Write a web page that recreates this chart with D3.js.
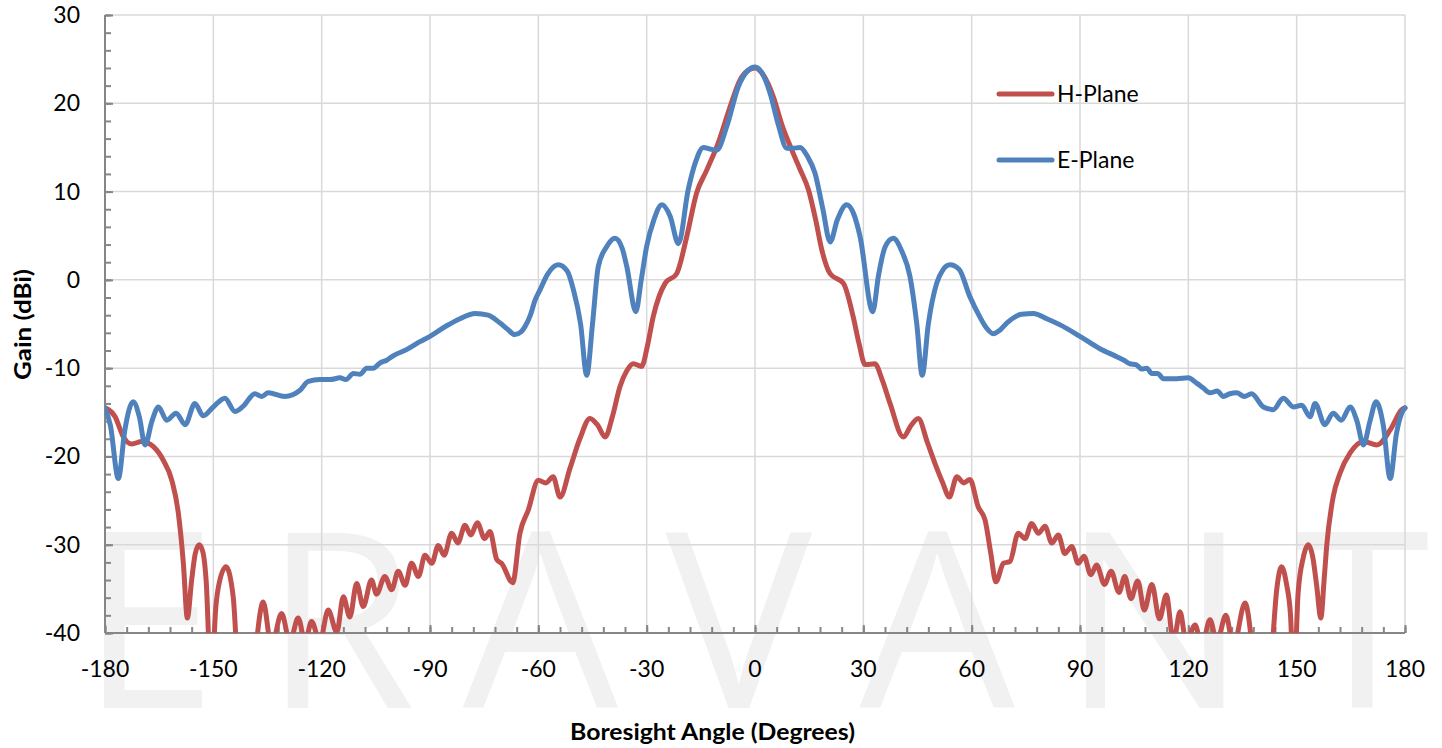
<!DOCTYPE html>
<html><head><meta charset="utf-8">
<script src="https://cdn.jsdelivr.net/npm/d3@7"></script>
<style>body{margin:0;background:#fff;} svg{display:block;}</style>
</head><body>
<svg id="chart" width="1442" height="748"></svg>
<script>
// ---- data ----
const xTicks = [-180,-150,-120,-90,-60,-30,0,30,60,90,120,150,180];
const yTicks = [-40,-30,-20,-10,0,10,20,30];
const seriesNames = ["H-Plane","E-Plane"];
const seriesColors = ["#c0504d","#4f81bd"];

// H-Plane: [angle (deg), gain (dBi)]
const hPlane = [
[-180,-14.5],[-177.2,-15.5],[-174.9,-17.8],[-172.6,-18.6],[-169.8,-18.3],[-166.6,-18.9],[-163.9,-20.4],
[-161.5,-22.7],[-159.7,-26.4],[-158.3,-32.1],[-157.2,-38.3],[-156.0,-34.0],[-155,-31],[-153.9,-30.0],
[-152.8,-31],[-152.0,-34.0],[-150.6,-46],[-149.3,-37],[-148.6,-34.8],[-146.5,-32.5],[-144.5,-35.9],
[-143,-46],[-140.5,-52],[-138.3,-42],[-136.2,-36.5],[-133.9,-41.5],[-131.1,-37.8],[-128.8,-41],
[-126.5,-38.3],[-124.6,-41],[-122.8,-38.7],[-120.5,-41],[-118.2,-37.4],[-115.8,-39.9],[-114.0,-35.9],
[-112.2,-38.2],[-110.3,-34.4],[-108.5,-37.0],[-106.2,-34.0],[-104.8,-35.6],[-102.5,-33.6],[-100.6,-35.1],
[-98.8,-33.0],[-96.9,-34.6],[-95.1,-32.1],[-93.2,-33.6],[-91.4,-31.2],[-89.5,-32.1],[-87.7,-30.1],
[-86.1,-31.2],[-84.0,-28.7],[-82.3,-29.8],[-80.3,-27.8],[-78.7,-28.9],[-76.9,-27.5],[-74.9,-29.3],
[-73.4,-28.5],[-71.5,-31.7],[-70.2,-32.1],[-67.1,-34.3],[-65.1,-28.7],[-62.8,-26.1],[-60.0,-22.7],
[-57.9,-23.0],[-55.9,-22.3],[-54.0,-24.6],[-51.2,-21.3],[-48.5,-18],[-45.7,-15.7],[-43.5,-16.5],
[-41.5,-17.8],[-39.5,-15.5],[-37.4,-12.1],[-35.5,-10.3],[-33.7,-9.5],[-31.4,-9.8],[-29.8,-7.5],
[-28.2,-4.2],[-24.9,-0.4],[-21.7,0.7],[-18.9,4.9],[-16.2,9.8],[-13.4,12.4],[-10.2,15.5],[-6.9,19.6],
[-4.2,22.6],[-2,23.7],[0,24.0],[2.3,23.2],[5.1,20.7],[7.5,17.5],[10.2,14.7],[12.5,12.5],[14.8,10.2],
[16.8,6.8],[18.5,3.4],[20.8,0.7],[24.5,-0.4],[27.2,-4.2],[28.8,-7.2],[30.5,-9.6],[33.2,-9.5],
[35.2,-11.3],[37.4,-14.0],[41.1,-17.8],[43.2,-16.5],[45.2,-15.7],[47.8,-18.5],[50.3,-21.3],[52,-23],
[53.8,-24.6],[55.9,-22.3],[57.8,-23.0],[59.5,-22.6],[61.8,-25.7],[63.7,-27.2],[65.3,-31],[66.7,-34.2],
[68.8,-32.1],[70.6,-31.9],[72.9,-28.7],[74.8,-29.3],[76.6,-27.6],[78.5,-28.7],[80.3,-27.9],[82.2,-29.8],
[84.0,-28.9],[85.8,-31.0],[87.7,-30.2],[89.5,-32.1],[91.1,-31.3],[93.0,-33.4],[94.6,-32.3],[96.8,-34.5],
[98.6,-33.0],[100.8,-35.4],[102.4,-33.6],[104.1,-36.1],[106.0,-34.1],[107.8,-37.4],[109.9,-34.5],
[112.0,-38.4],[113.9,-35.7],[115.9,-41],[117.7,-37.6],[119.4,-41],[121.9,-39.1],[123.7,-41.5],
[126.0,-38.5],[127.9,-41],[130.4,-38.0],[132.5,-41.5],[135.7,-36.6],[137.8,-42],[140,-52],[142.8,-44],
[144.5,-35],[145.8,-32.5],[147.2,-34.5],[148.3,-38],[149.2,-46],[150.4,-35.5],[151.8,-31.5],[153.2,-30.0],
[154.5,-31.5],[155.5,-34.5],[156.7,-38.3],[157.6,-34],[158.3,-30.2],[160.1,-24.6],[162.0,-21.9],
[164.8,-19.6],[168.5,-18.3],[172.2,-18.7],[175.9,-17.0],[179.1,-14.7],[180,-14.5]
];

// E-Plane: [angle (deg), gain (dBi)]
const ePlane = [
[-180,-14.5],[-178.5,-16.5],[-176.3,-22.5],[-174.5,-17],[-172.2,-13.8],[-170.5,-15.5],[-168.9,-18.7],
[-167,-16],[-165.2,-14.4],[-162.9,-15.9],[-160.3,-15.1],[-157.8,-16.4],[-155.1,-14.0],[-152.8,-15.4],
[-150.0,-14.4],[-146.8,-13.4],[-144.0,-14.9],[-141.7,-14.3],[-138.5,-12.9],[-136.6,-13.2],[-134.8,-12.8],
[-130.2,-13.2],[-126,-12.5],[-123.7,-11.5],[-120.5,-11.3],[-117.7,-11.3],[-114.9,-11.1],[-113.3,-11.3],
[-111.2,-10.6],[-109.4,-10.7],[-107.5,-10.0],[-105.7,-10.0],[-103.8,-9.4],[-102.0,-9.1],[-100.2,-8.6],
[-96.5,-7.9],[-92.8,-7.0],[-90,-6.4],[-85.4,-5.2],[-81.7,-4.4],[-77.5,-3.8],[-73.9,-4.0],[-70.6,-4.9],
[-68.5,-5.6],[-66.5,-6.2],[-64.8,-5.9],[-63.7,-5.3],[-62.2,-4.0],[-60.9,-2.3],[-59.5,-1.1],[-57.5,0.6],
[-54.5,1.7],[-52,1.0],[-50.3,-1.1],[-48.3,-5],[-46.6,-10.8],[-45,-5],[-43.4,1.5],[-41,3.8],[-38.8,4.7],
[-36.8,3.6],[-35.5,1.5],[-33,-3.6],[-31.5,0],[-30,3.8],[-28,6.8],[-25.8,8.5],[-23.5,7.2],[-21.2,4.1],
[-18.5,10.2],[-16.5,13.3],[-14.3,15.0],[-12.3,14.8],[-10.6,14.7],[-7.8,17.4],[-4.6,21.9],[-2,23.7],
[0,24.1],[2,23.4],[4.2,21.1],[6.5,17.5],[8.8,14.9],[10.5,14.9],[12.5,15.0],[14.5,14.0],[16.6,12.1],
[18.8,8],[20.8,4.3],[22.8,6.8],[25.4,8.5],[27.4,7.4],[29.1,4.9],[32.6,-3.6],[34.2,0.5],[36,3.7],
[38.3,4.7],[40.6,3.3],[42.9,0.4],[44.8,-5],[46.3,-10.8],[48,-5],[50.3,-0.4],[52,1.1],[54,1.7],
[56.5,1.2],[59.5,-1.9],[62,-4],[64,-5.4],[66,-6.1],[67.8,-5.7],[69.7,-4.9],[73.8,-3.9],[77.1,-3.8],
[80.8,-4.4],[84.5,-5.1],[90,-6.4],[95.5,-7.8],[100.2,-8.7],[102.2,-9.1],[103.8,-9.5],[105.5,-9.6],
[107.1,-10.1],[108.5,-10.0],[109.9,-10.6],[111.5,-10.6],[113.1,-11.2],[116.8,-11.2],[120,-11.1],
[122.3,-11.7],[124,-12.2],[126,-12.8],[128,-12.6],[129.7,-13.2],[131.5,-12.9],[133.4,-12.8],
[135.5,-13.2],[137.5,-12.9],[140.8,-14.4],[143.5,-14.7],[146.3,-13.4],[149.1,-14.4],[151.4,-14.2],
[153.7,-15.5],[155.1,-14.0],[157.8,-16.4],[160.1,-15.1],[162.4,-15.9],[164.8,-14.4],[166.7,-16],
[168.5,-18.7],[170.3,-16],[172.0,-13.8],[174,-16.5],[175.9,-22.5],[177.6,-17.5],[179.1,-15.1],[180,-14.5]
];

// ---- chart ----
const svg = d3.select("#chart");
const L = 105, R = 1405, T = 15, B = 633;
const x = d3.scaleLinear().domain([-180,180]).range([L,R]);
const y = d3.scaleLinear().domain([-40,30]).range([B,T]);
const font = "Lato, 'Open Sans', sans-serif";

// watermark
svg.append("text")
  .attr("x", 80).attr("y", 708)
  .attr("textLength", 1350).attr("lengthAdjust","spacing")
  .attr("font-family","'Open Sans', sans-serif").attr("font-weight",400)
  .attr("font-size", 246).attr("fill","#f1f1f1")
  .text("ERAVANT");

// gridlines
svg.append("g").selectAll("line").data(yTicks.filter(d=>d>-40)).join("line")
  .attr("x1",L).attr("x2",R).attr("y1",d=>y(d)).attr("y2",d=>y(d))
  .attr("stroke","#d9d9d9").attr("stroke-width",1.5);
svg.append("g").selectAll("line").data(xTicks.filter(d=>d>-180)).join("line")
  .attr("y1",T).attr("y2",B).attr("x1",d=>x(d)).attr("x2",d=>x(d))
  .attr("stroke","#d9d9d9").attr("stroke-width",1.5);

// axes
const axisColor = "#868686";
const yMinor = d3.range(-40,30.01,2);
const xMinor = d3.range(-180,180.01,6);
const yAx = svg.append("g").attr("transform",`translate(${L},0)`)
  .call(d3.axisRight(y).tickValues(yMinor).tickSize(6).tickFormat(""));
const yAxMaj = svg.append("g").attr("transform",`translate(${L},0)`)
  .call(d3.axisRight(y).tickValues(yTicks).tickSize(8).tickFormat(""));
const xAx = svg.append("g").attr("transform",`translate(0,${B})`)
  .call(d3.axisTop(x).tickValues(xMinor).tickSize(6).tickFormat(""));
const xAxMaj = svg.append("g").attr("transform",`translate(0,${B})`)
  .call(d3.axisTop(x).tickValues(xTicks).tickSize(8).tickFormat(""));
[yAx,yAxMaj,xAx,xAxMaj].forEach(g=>{
  g.selectAll("path.domain").attr("stroke",axisColor).attr("stroke-width",2);
  g.selectAll(".tick line").attr("stroke",axisColor).attr("stroke-width",2);
});
xAx.select("path.domain").attr("d",`M${L},0H${R}`);
yAx.select("path.domain").attr("d",`M0,${B}V${T}`);
xAxMaj.select("path.domain").remove();
yAxMaj.select("path.domain").remove();

// tick labels
svg.append("g").selectAll("text").data(yTicks).join("text")
  .attr("x",80).attr("y",d=>y(d)+8).attr("text-anchor","end")
  .attr("font-family",font).attr("font-size",23).attr("fill","#000")
  .text(d=>d);
svg.append("g").selectAll("text").data(xTicks).join("text")
  .attr("x",d=>x(d)).attr("y",677).attr("text-anchor","middle")
  .attr("font-family",font).attr("font-size",23).attr("fill","#000")
  .text(d=>d);

// axis titles
svg.append("text").attr("x",570).attr("y",740)
  .attr("textLength",285).attr("lengthAdjust","spacingAndGlyphs")
  .attr("font-family",font).attr("font-weight",700).attr("font-size",22)
  .text("Boresight Angle (Degrees)");
svg.append("text").attr("transform","translate(31,380) rotate(-90)")
  .attr("textLength",111).attr("lengthAdjust","spacingAndGlyphs")
  .attr("font-family",font).attr("font-weight",700).attr("font-size",22)
  .text("Gain (dBi)");

// lines
svg.append("clipPath").attr("id","plotclip").append("rect")
  .attr("x",L).attr("y",T-5).attr("width",R-L+4).attr("height",B-T+5);
const line = d3.line().x(d=>x(d[0])).y(d=>y(d[1])).curve(d3.curveMonotoneX);
const plot = svg.append("g").attr("clip-path","url(#plotclip)");
[hPlane, ePlane].forEach((data,i)=>{
  plot.append("path").datum(data).attr("d",line)
    .attr("fill","none").attr("stroke",seriesColors[i]).attr("stroke-width",5)
    .attr("stroke-linejoin","round").attr("stroke-linecap","round");
});

// legend
const legY = [94,160];
seriesNames.forEach((n,i)=>{
  svg.append("line").attr("x1",999).attr("x2",1052).attr("y1",legY[i]).attr("y2",legY[i])
    .attr("stroke",seriesColors[i]).attr("stroke-width",5).attr("stroke-linecap","round");
  svg.append("text").attr("x",1057).attr("y",legY[i]+8)
    .attr("font-family",font).attr("font-size",23).attr("fill","#000").text(n);
});
</script>
</body></html>
